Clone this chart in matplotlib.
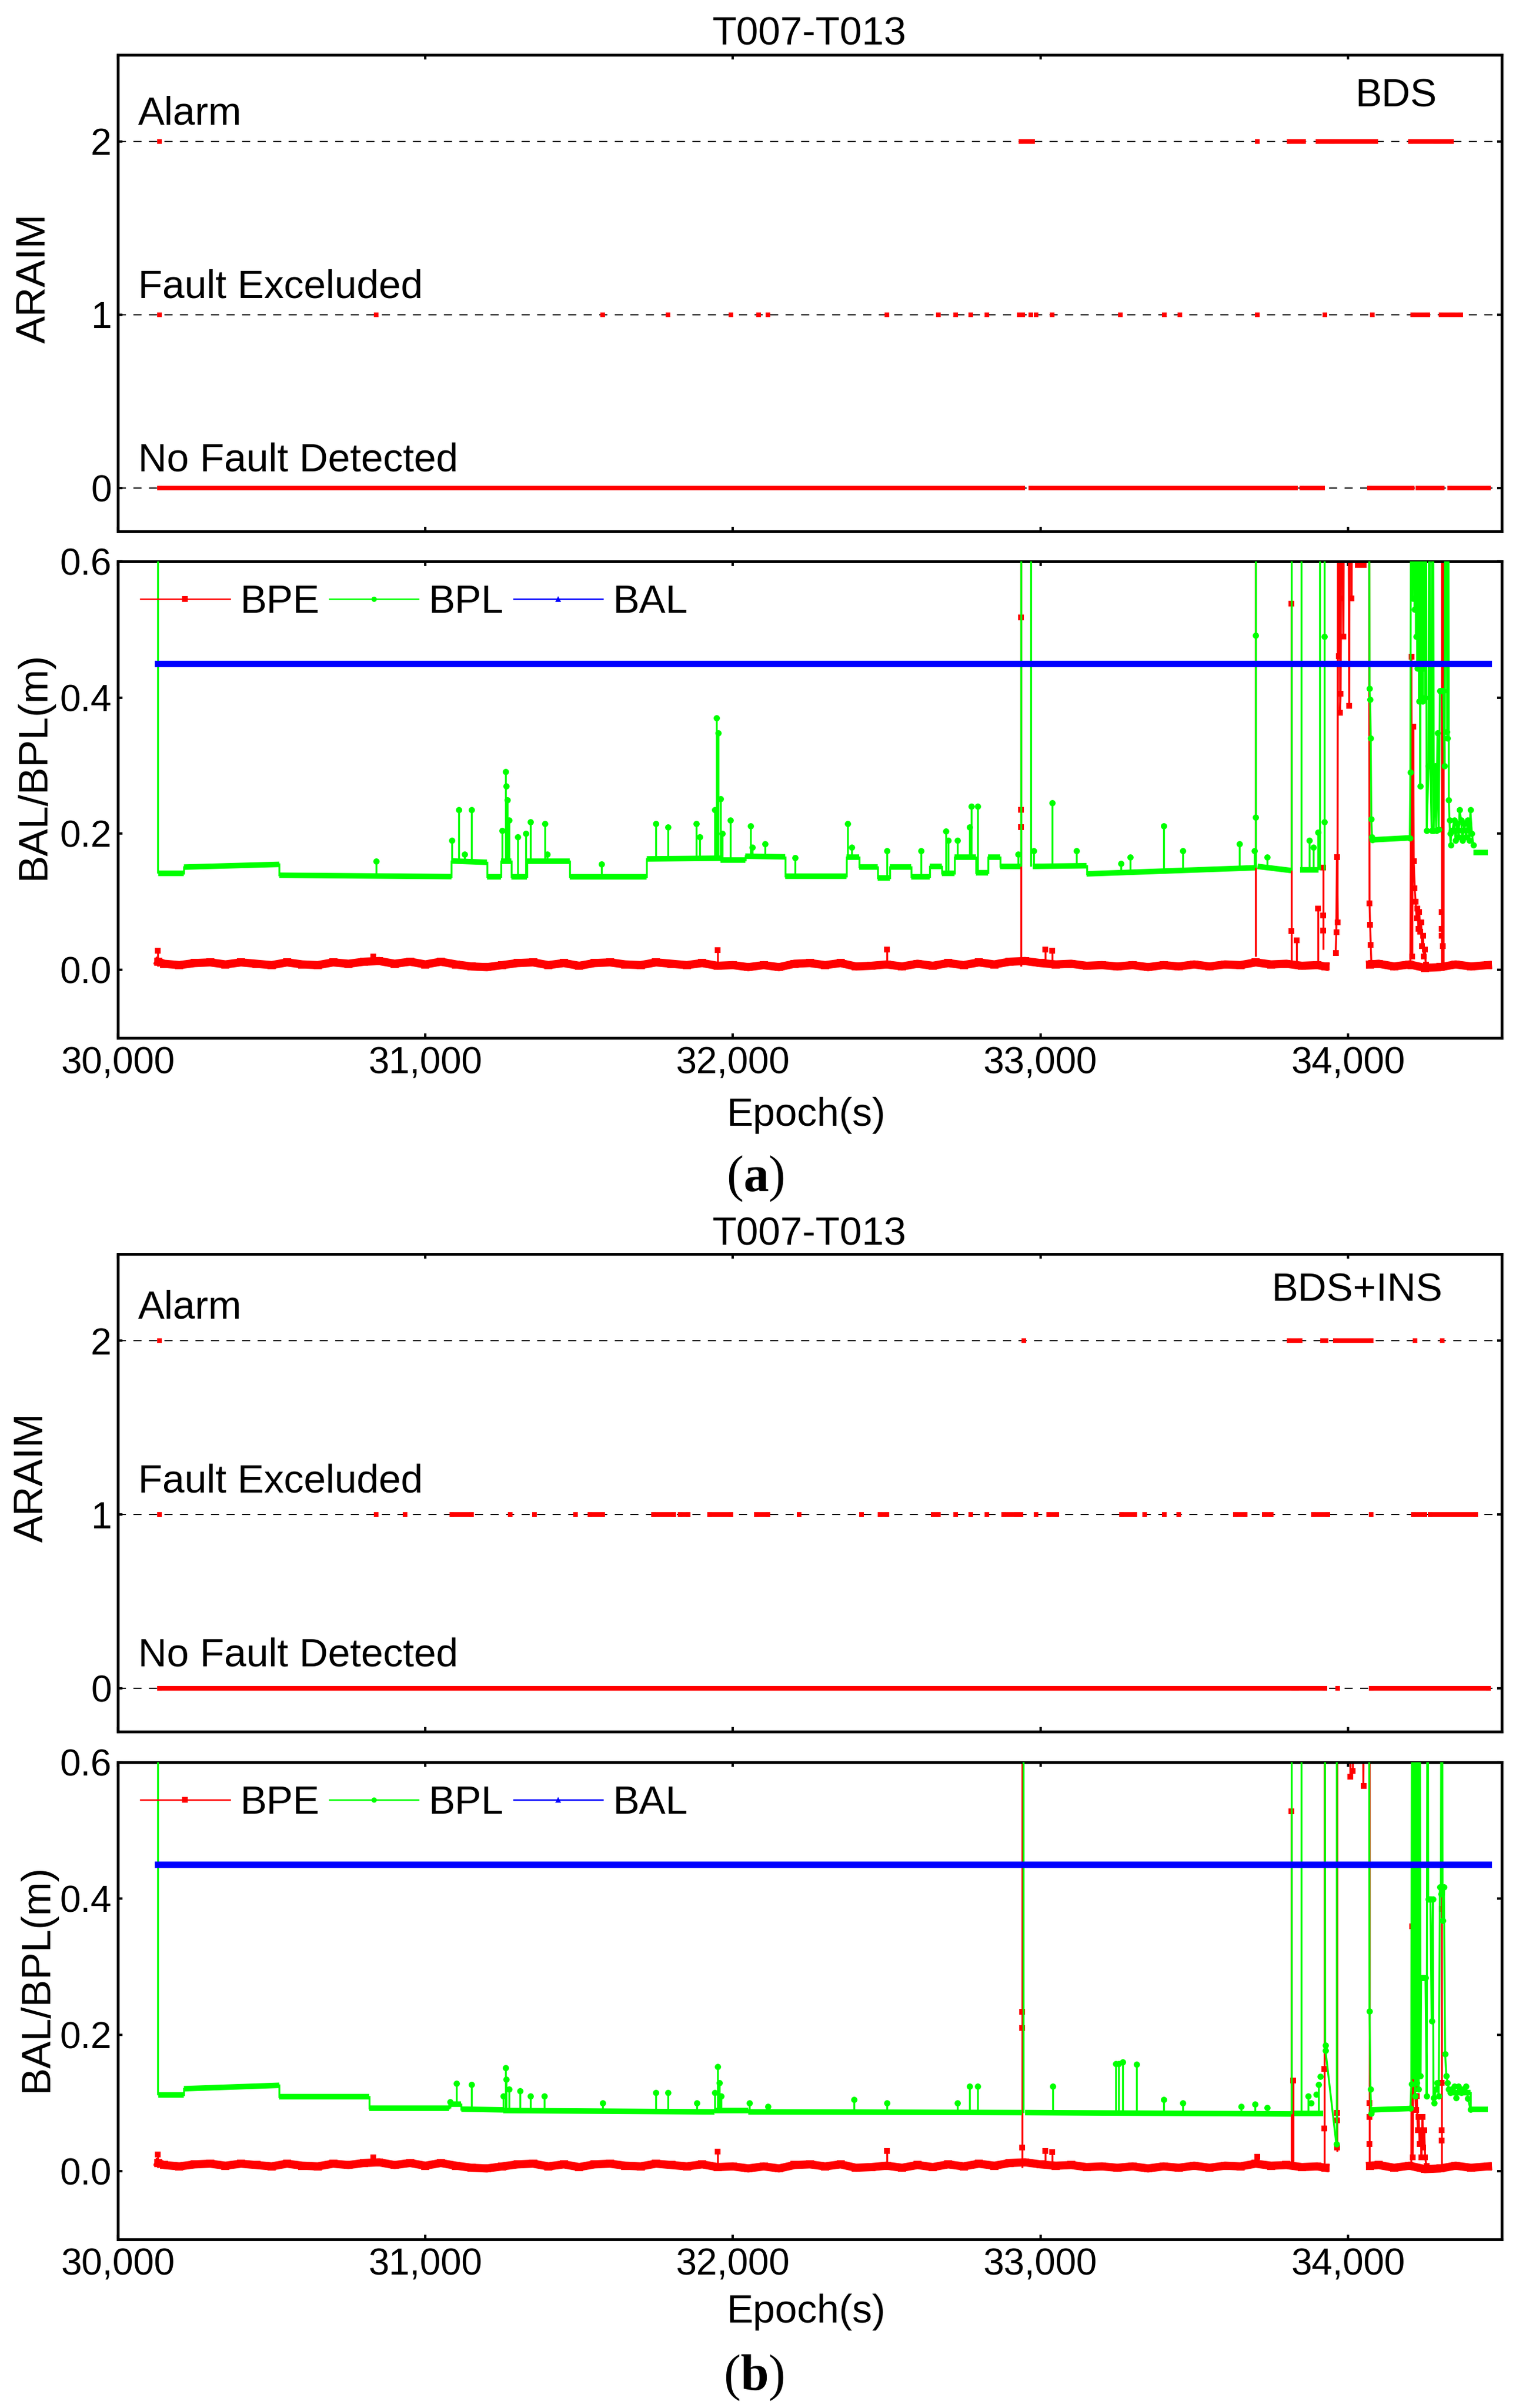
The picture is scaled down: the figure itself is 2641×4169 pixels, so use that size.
import numpy as np
import matplotlib
matplotlib.use("Agg")
import matplotlib.pyplot as plt
from matplotlib.lines import Line2D
from matplotlib.ticker import FuncFormatter

plt.rcParams["font.family"] = ["Liberation Sans", "DejaVu Sans"]
plt.rcParams["mathtext.fontset"] = "custom"
plt.rcParams["mathtext.rm"] = "Liberation Serif"
plt.rcParams["mathtext.bf"] = "Liberation Serif:bold"

nan = np.nan

# ---------------- ARAIM states: (start, end) epochs on each level ----------------
araim_a_nfd = [(30136, 32943), (32969, 33830), (33849, 33918), (34070, 34209),
               (34228, 34307), (34330, 34456)]
araim_a_fe = [(30136, 30136), (30839, 30839), (31576, 31576), (31788, 31788),
              (31994, 31994), (32083, 32083), (32114, 32114), (32500, 32500),
              (32668, 32668), (32725, 32725), (32773, 32773), (32826, 32826),
              (32931, 32931), (32943, 32943), (32969, 32969), (32985, 32985),
              (33038, 33038), (33260, 33260), (33402, 33402), (33453, 33453),
              (33706, 33706), (33925, 33925), (34080, 34080), (34210, 34260),
              (34303, 34337), (34341, 34367)]
araim_a_alarm = [(30136, 30136), (32937, 32975), (33705, 33705), (33808, 33855),
                 (33902, 33945), (33949, 34090), (34204, 34285), (34294, 34337)]

araim_b_nfd = [(30136, 33823), (33833, 33925), (33966, 33966), (34076, 34456)]
araim_b_fe = [(30136, 30136), (30839, 30839), (30934, 30934), (31086, 31149),
              (31275, 31275), (31355, 31355), (31488, 31488), (31535, 31576),
              (31741, 31807), (31829, 31855), (31924, 31994), (32076, 32114),
              (32215, 32215), (32418, 32418), (32478, 32500), (32652, 32668),
              (32725, 32725), (32773, 32773), (32826, 32826), (32880, 32921),
              (32937, 32937), (32985, 32985), (33026, 33054), (33263, 33307),
              (33339, 33339), (33402, 33402), (33450, 33450), (33633, 33665),
              (33728, 33750), (33887, 33934), (34076, 34076), (34213, 34251),
              (34267, 34415)]
araim_b_alarm = [(30136, 30136), (32947, 32947), (33808, 33845), (33918, 33928),
                 (33959, 34076), (34219, 34219), (34307, 34307)]

# ---------------- BAL ----------------
bal_t = [30130, 34456]
bal_v = [0.45, 0.45]

# ---------------- BPE noise band (same in both runs) ----------------
bpe_base_t = [30132, 30150, 30200, 30250, 30300, 30350, 30400, 30450, 30500, 30550,
              30600, 30650, 30700, 30750, 30800, 30850, 30900, 30950, 31000, 31050,
              31100, 31150, 31200, 31250, 31300, 31350, 31400, 31450, 31500, 31550,
              31600, 31650, 31700, 31750, 31800, 31850, 31900, 31950, 32000, 32050,
              32100, 32150, 32200, 32250, 32300, 32350, 32400, 32450, 32500, 32550,
              32600, 32650, 32700, 32750, 32800, 32850, 32900, 32950, 33000, 33050,
              33100, 33150, 33200, 33250, 33300, 33350, 33400, 33450, 33500, 33550,
              33600, 33650, 33700, 33750, 33800, 33850, 33900, 33926, 33940,
              34072, 34100, 34150, 34200, 34250, 34300, 34350, 34400, 34455]
bpe_base_v = [0.012, 0.009, 0.007, 0.010, 0.011, 0.008, 0.011, 0.009, 0.007, 0.011,
              0.008, 0.007, 0.011, 0.009, 0.012, 0.013, 0.009, 0.012, 0.008, 0.012,
              0.008, 0.005, 0.004, 0.007, 0.010, 0.011, 0.007, 0.010, 0.006, 0.010,
              0.011, 0.008, 0.007, 0.011, 0.009, 0.007, 0.010, 0.006, 0.007, 0.004,
              0.007, 0.004, 0.009, 0.010, 0.007, 0.010, 0.005, 0.006, 0.008, 0.005,
              0.009, 0.006, 0.010, 0.007, 0.011, 0.008, 0.012, 0.013, 0.010, 0.008,
              0.009, 0.006, 0.007, 0.005, 0.007, 0.004, 0.007, 0.005, 0.008, 0.005,
              0.008, 0.007, 0.011, 0.008, 0.009, 0.006, 0.007, 0.005, nan,
              0.008, 0.009, 0.005, 0.008, 0.003, 0.004, 0.008, 0.005, 0.007]

# ---------------- (a) BDS ----------------
bpe_a_spk_t = [30130, 30830, 31950, 32500, 32937, 33016, 33038, 33700, 33817, 33833,
               33903, 33920, 34305, 34310]
bpe_a_spk_lo = [0.005, 0.008, 0.006, 0.006, 0.005, 0.008, 0.008, 0.020, 0.010, 0.008,
                0.005, 0.030, 0.005, 0.010]
bpe_a_spk_hi = [0.028, 0.020, 0.029, 0.030, 1.0, 0.030, 0.028, 1.0, 0.538, 0.043,
                0.090, 0.150, 1.0, 1.0]
bpe_a_dot_t = [32937, 32937, 32937, 33817, 33920, 33920, 34305, 34305, 34305, 34308]
bpe_a_dot_v = [0.518, 0.235, 0.210, 0.057, 0.080, 0.058, 0.085, 0.060, 0.050, 0.035]
bpe_a_run_t = [33960, 33962, 33964, 33966, 33968, 33970, 33972, 33974, 33976, 33978,
               33981, 33985, 33990, 34000, 34004, 34007, 34010, 34012, 34015, 34025,
               34032, 34040, 34050, 34060, 34068, 34070, 34072, 34074, 34076, nan,
               34203, 34206, 34209, 34212, 34214, 34217, 34220, 34223, 34226, 34229,
               34232, 34235, 34238, 34241, 34244, 34247, 34250, 34253, 34256]
bpe_a_run_v = [0.025, 0.055, 0.166, 0.070, 1.0, 0.461, 1.0, 0.378, 0.406, 0.546,
               1.0, 0.490, 1.0, 1.0, 0.388, 1.0, 1.0, 0.546, 1.0, 1.0,
               0.595, 1.0, 0.595, 1.0, 1.0, 0.098, 0.066, 0.037, 0.010, nan,
               0.005, 0.460, 0.020, 0.357, 0.160, 0.120, 0.100, 0.076, 0.090, 0.060,
               0.085, 0.056, 0.070, 0.035, 0.050, 0.020, 0.030, 0.008, 0.005]

bpl_a_t0 = [30132, 30215, 30525, 31085, 31200, 31245, 31280, 31330, 31470, 31720,
            31960, 32040, 32170, 32370, 32410, 32470, 32510, 32580, 32640, 32680,
            32720, 32790, 32830, 32870, 32975, 33150, 33706, 33845, 34079, 34336, 34407]
bpl_a_t1 = [30215, 30525, 31085, 31200, 31245, 31280, 31330, 31470, 31720, 31960,
            32040, 32170, 32370, 32410, 32470, 32510, 32580, 32640, 32680, 32720,
            32790, 32830, 32870, 32935, 33150, 33698, 33815, 33905, 34203, 34405, 34455]
bpl_a_v0 = [0.142, 0.151, 0.139, 0.160, 0.137, 0.160, 0.137, 0.160, 0.137, 0.163,
            0.161, 0.167, 0.138, 0.166, 0.151, 0.135, 0.151, 0.137, 0.152, 0.142,
            0.166, 0.143, 0.166, 0.152, 0.152, 0.141, 0.152, 0.147, 0.191, 0.205, 0.172]
bpl_a_v1 = [0.142, 0.155, 0.137, 0.158, 0.137, 0.160, 0.137, 0.160, 0.137, 0.164,
            0.161, 0.166, 0.138, 0.166, 0.151, 0.135, 0.151, 0.137, 0.152, 0.142,
            0.166, 0.143, 0.166, 0.152, 0.153, 0.150, 0.146, 0.147, 0.194, 0.205, 0.172]
bpl_a_spk_t = [30130, 30839, 31086, 31108, 31127, 31149, 31250, 31260, 31266, 31272,
               31301, 31326, 31342, 31389, 31396, 31573, 31750, 31788, 31880, 31893,
               31940, 31946, 31953, 31959, 31965, 31991, 32057, 32063, 32105, 32203,
               32374, 32386, 32500, 32611, 32693, 32700, 32731, 32769, 32776, 32795,
               32928, 32937, 32969, 32978, 33038, 33118, 33262, 33291, 33400, 33463,
               33647, 33696, 33700, 33738, 33817, 33848, 33875, 33888, 33903, 33909, 33924]
bpl_a_spk_lo = [0.142, 0.138, 0.160, 0.160, 0.158, 0.158, 0.160, 0.160, 0.160, 0.160,
                0.137, 0.137, 0.160, 0.160, 0.160, 0.137, 0.163, 0.163, 0.163, 0.163,
                0.163, 0.163, 0.163, 0.163, 0.161, 0.161, 0.167, 0.167, 0.167, 0.138,
                0.166, 0.166, 0.135, 0.137, 0.142, 0.142, 0.166, 0.166, 0.166, 0.143,
                0.152, 0.152, 0.152, 0.152, 0.152, 0.152, 0.143, 0.144, 0.145, 0.146,
                0.149, 0.150, 0.150, 0.150, 0.146, 0.147, 0.147, 0.147, 0.147, 0.147, 0.147]
bpl_a_spk_hi = [1.0, 0.160, 0.190, 0.235, 0.170, 0.235, 0.205, 0.291, 0.250, 0.220,
                0.195, 0.200, 0.217, 0.215, 0.170, 0.155, 0.215, 0.210, 0.215, 0.195,
                0.235, 0.370, 0.348, 0.251, 0.200, 0.220, 0.211, 0.180, 0.185, 0.165,
                0.215, 0.180, 0.175, 0.175, 0.204, 0.190, 0.190, 0.210, 0.240, 0.240,
                0.170, 1.0, 1.0, 0.175, 0.245, 0.175, 0.156, 0.166, 0.211, 0.175,
                0.185, 0.175, 1.0, 0.166, 1.0, 1.0, 0.190, 0.180, 0.202, 1.0, 1.0]
bpl_a_dot_t = [31263, 33700, 33700, 33924, 33924]
bpl_a_dot_v = [0.270, 0.491, 0.224, 0.490, 0.217]
bpl_a_run_t = [34068, 34070, 34072, 34074, 34076, 34078, 34080, nan,
               34201, 34203, 34206, 34210, 34214, 34217, 34219, 34221, 34223, 34225,
               34227, 34229, 34231, 34233, 34235, 34237, 34239, 34241, 34243, 34245,
               34247, 34249, 34251, 34253, 34256, 34262, 34265, 34268, 34272, 34276,
               34279, 34283, 34287, 34291, 34295, 34299, 34302, 34306, 34310, 34314,
               34318, 34322, 34324, 34326, 34328, 34330, 34332, 34334, 34336, nan,
               34340, 34345, 34350, 34355, 34360, 34363, 34368, 34372, 34378, 34384,
               34390, 34395, 34398, 34403, 34408]
bpl_a_run_v = [1.0, 0.413, 0.397, 0.340, 0.222, 0.195, 0.191, nan,
               0.194, 0.290, 1.0, 0.546, 1.0, 0.530, 1.0, 0.490, 1.0, 0.443,
               1.0, 1.0, 0.395, 1.0, 0.270, 1.0, 0.400, 1.0, 0.395, 1.0,
               0.443, 1.0, 0.400, 1.0, 0.205, 0.300, 1.0, 0.300, 0.205, 1.0,
               0.205, 0.300, 0.205, 0.348, 0.206, 0.410, 0.410, 0.410, 0.410, 0.300,
               1.0, 0.350, 0.340, 1.0, 0.250, 0.220, 0.200, 0.183, 0.205, nan,
               0.205, 0.220, 0.190, 0.215, 0.195, 0.235, 0.220, 0.190, 0.215, 0.195,
               0.220, 0.190, 0.235, 0.200, 0.183]

# ---------------- (b) BDS+INS ----------------
bpe_b_spk_t = [30130, 30830, 31950, 32500, 32940, 33016, 33038, 33706, 33816, 33822,
               33924, 33965, 34070, 34305]
bpe_b_spk_lo = [0.005, 0.008, 0.006, 0.006, 0.005, 0.008, 0.008, 0.008, 0.010, 0.010,
                0.010, 0.029, 0.010, 0.008]
bpe_b_spk_hi = [0.025, 0.020, 0.029, 0.030, 1.0, 0.030, 0.028, 0.021, 0.528, 0.133,
                1.0, 1.0, 1.0, 1.0]
bpe_b_dot_t = [32940, 32940, 32940, 33924, 33924, 33965, 33965, 33965, 34070, 34070,
               34070, 34305, 34305, 34305, 34305]
bpe_b_dot_v = [0.234, 0.210, 0.035, 0.150, 0.063, 0.086, 0.075, 0.035, 0.100, 0.080,
               0.040, 0.385, 0.130, 0.060, 0.045]
bpe_b_run_t = [33966, 33980, 34000, 34004, 34008, 34012, 34016, 34020, 34030, 34040,
               34046, 34050, 34055, 34066, nan,
               34206, 34208, 34210, 34212, 34215, 34218, 34221, 34224, 34227, 34230,
               34233, 34236, 34239, 34242, 34245, 34248, 34251, 34255]
bpe_b_run_v = [1.0, 1.0, 1.0, 1.0, 0.579, 1.0, 0.587, 1.0, 1.0, 1.0,
               1.0, 0.565, 1.0, 1.0, nan,
               0.008, 0.359, 0.020, 0.156, 0.140, 0.120, 0.090, 0.110, 0.060, 0.080,
               0.040, 0.060, 0.020, 0.080, 0.035, 0.060, 0.020, 0.008]

bpl_b_t0 = [30132, 30215, 30525, 30817, 31076, 31117, 31253, 31940, 32050, 32950,
            33825, 34079, 34332, 34398]
bpl_b_t1 = [30215, 30525, 30817, 31076, 31117, 31253, 31940, 32050, 32940, 33815,
            33920, 34203, 34398, 34455]
bpl_b_v0 = [0.112, 0.121, 0.109, 0.0925, 0.098, 0.091, 0.089, 0.089, 0.087, 0.086,
            0.085, 0.090, 0.115, 0.091]
bpl_b_v1 = [0.112, 0.126, 0.109, 0.0925, 0.098, 0.090, 0.087, 0.089, 0.086, 0.084,
            0.085, 0.092, 0.115, 0.091]
bpl_b_spk_t = [30130, 31080, 31101, 31149, 31253, 31260, 31263, 31272, 31307, 31342,
               31386, 31576, 31750, 31788, 31883, 31940, 31950, 31956, 31962, 32054,
               32114, 32393, 32500, 32731, 32769, 32795, 32945, 33041, 33245, 33254,
               33267, 33312, 33400, 33463, 33653, 33698, 33738, 33816, 33848, 33870,
               33905, 33963]
bpl_b_spk_lo = [0.112, 0.0925, 0.098, 0.091, 0.089, 0.089, 0.089, 0.089, 0.089, 0.089,
                0.089, 0.088, 0.088, 0.088, 0.087, 0.087, 0.087, 0.087, 0.087, 0.087,
                0.087, 0.087, 0.087, 0.086, 0.086, 0.086, 0.086, 0.086, 0.085, 0.085,
                0.085, 0.085, 0.085, 0.085, 0.084, 0.084, 0.084, 0.084, 0.085, 0.085,
                0.085, 0.040]
bpl_b_spk_hi = [1.0, 0.1015, 0.1287, 0.127, 0.110, 0.1517, 0.135, 0.120, 0.118, 0.110,
                0.110, 0.100, 0.115, 0.115, 0.100, 0.115, 0.153, 0.130, 0.110, 0.100,
                0.095, 0.105, 0.100, 0.100, 0.125, 0.125, 1.0, 0.125, 0.158, 0.158,
                0.160, 0.157, 0.105, 0.100, 0.095, 0.098, 0.093, 1.0, 1.0, 0.110,
                0.127, 1.0]
bpl_b_dot_t = [33880, 33897, 33910]
bpl_b_dot_v = [0.100, 0.113, 0.139]
bpl_b_run_t = [33925, 33926, 33927, 33962, nan,
               34068, 34070, 34073, 34076, 34079, nan,
               34203, 34206, 34209, 34212, 34215, 34218, 34221, 34224, 34227, 34230,
               34233, 34236, 34238, 34242, 34247, 34252, 34256, 34259, 34261, 34264,
               34268, 34272, 34276, 34278, 34281, 34285, 34290, 34295, 34299, 34302,
               34305, 34308, 34312, 34316, 34320, 34324, 34328, 34332, 34336, 34345,
               34352, 34360, 34368, 34375, 34383, 34390, 34398]
bpl_b_run_v = [1.0, 0.185, 0.177, 0.040, nan,
               1.0, 0.235, 0.120, 0.085, 0.090, nan,
               0.092, 0.128, 1.0, 0.140, 1.0, 0.110, 1.0, 0.130, 1.0, 0.120,
               1.0, 0.140, 0.284, 0.284, 0.284, 0.284, 0.110, 1.0, 0.399, 0.399,
               0.399, 0.220, 0.399, 0.108, 0.100, 0.120, 0.130, 0.110, 0.417, 0.407,
               1.0, 0.368, 0.417, 0.172, 0.140, 0.130, 0.120, 0.115, 0.120, 0.125,
               0.108, 0.125, 0.115, 0.120, 0.125, 0.107, 0.091]

# ---------------- drawing ----------------
RED, GREEN, BLUE = "#ff0000", "#00ff00", "#0000ff"
W, H, DPI = 2641, 4169, 300
XTICKS = [30000, 31000, 32000, 33000, 34000]
FS = 16.5

fig = plt.figure(figsize=(W / DPI, H / DPI), dpi=DPI)


def add_ax(x0, y0, x1, y1):
    # pixel box of the axes in the reference picture
    return fig.add_axes([x0 / W, 1 - y1 / H, (x1 - x0) / W, (y1 - y0) / H])


def frame(ax):
    ax.set_xlim(30000, 34500)
    ax.set_xticks(XTICKS)
    for sp in ax.spines.values():
        sp.set_linewidth(1.15)
    ax.tick_params(direction="in", length=2, width=1, top=True, right=True, labelsize=15.5)
    ax.tick_params(axis="x", pad=3.5)
    ax.tick_params(axis="y", pad=2.6)


def draw_araim(ax, nfd, fe, alarm, dy, tag, tag_xy):
    frame(ax)
    ax.set_ylim(-0.25, 2.5)
    ax.set_yticks([0, 1, 2])
    ax.tick_params(axis="x", labelbottom=False)
    for lev, segs in ((0, nfd), (1, fe), (2, alarm)):
        ax.axhline(lev, color="k", lw=0.5, ls=(0, (6.7, 6.2)), zorder=1)
        for t0, t1 in segs:
            ax.plot([t0, t1], [lev, lev], color=RED, lw=1.9, solid_capstyle="butt",
                    marker="s", ms=2.1, mew=0, zorder=3)
    for lev, txt in ((2, "Alarm"), (1, "Fault Exceluded"), (0, "No Fault Detected")):
        ax.text(30065, lev + dy, txt, fontsize=FS, va="baseline")
    ax.text(tag_xy[0], tag_xy[1], tag, transform=ax.transAxes, ha="right",
            va="baseline", fontsize=FS)


def draw_bounds(ax, d):
    frame(ax)
    ax.set_ylim(-0.1, 0.6)
    ax.set_yticks([0, 0.2, 0.4, 0.6])
    ax.yaxis.set_major_formatter(FuncFormatter(lambda v, p: f"{v:.1f}"))
    ax.xaxis.set_major_formatter(FuncFormatter(lambda v, p: f"{v:,.0f}"))

    # BPE
    ax.plot(bpe_base_t, bpe_base_v, color=RED, lw=3.4, marker="s", ms=3.2, mew=0, zorder=2)
    ax.vlines(d["bpe_spk_t"], d["bpe_spk_lo"], d["bpe_spk_hi"], color=RED, lw=0.8, zorder=2)
    ax.plot(d["bpe_spk_t"], d["bpe_spk_hi"], ls="none", marker="s", ms=2.4, mew=0,
            color=RED, zorder=2)
    ax.plot(d["bpe_dot_t"], d["bpe_dot_v"], ls="none", marker="s", ms=2.4, mew=0,
            color=RED, zorder=2)
    ax.plot(d["bpe_run_t"], d["bpe_run_v"], color=RED, lw=0.8, marker="s", ms=2.4,
            mew=0, zorder=2)

    # BPL
    t0s, t1s, v0s, v1s = d["bpl_t0"], d["bpl_t1"], d["bpl_v0"], d["bpl_v1"]
    for i in range(len(t0s)):
        ax.plot([t0s[i], t1s[i]], [v0s[i], v1s[i]], color=GREEN, lw=2.3,
                solid_capstyle="butt", zorder=3)
        if i > 0 and t0s[i] == t1s[i - 1]:
            ax.plot([t0s[i], t0s[i]], [v1s[i - 1], v0s[i]], color=GREEN, lw=0.8, zorder=3)
    ax.vlines(d["bpl_spk_t"], d["bpl_spk_lo"], d["bpl_spk_hi"], color=GREEN, lw=0.8, zorder=3)
    ax.plot(d["bpl_spk_t"], d["bpl_spk_hi"], ls="none", marker="o", ms=2.6, mew=0,
            color=GREEN, zorder=3)
    ax.plot(d["bpl_dot_t"], d["bpl_dot_v"], ls="none", marker="o", ms=2.6, mew=0,
            color=GREEN, zorder=3)
    ax.plot(d["bpl_run_t"], d["bpl_run_v"], color=GREEN, lw=0.8, marker="o", ms=2.6,
            mew=0, zorder=3)

    # BAL
    ax.plot(bal_t, bal_v, color=BLUE, lw=2.7, zorder=4)

    handles = [Line2D([], [], color=RED, lw=0.6, marker="s", ms=2.4, mew=0),
               Line2D([], [], color=GREEN, lw=0.6, marker="o", ms=2.2, mew=0),
               Line2D([], [], color=BLUE, lw=0.6, marker="^", ms=2.6, mew=0)]
    ax.legend(handles, ["BPE", "BPL", "BAL"], loc="center left",
              bbox_to_anchor=(0.0163, 0.914), ncol=3, frameon=False, fontsize=FS,
              handlelength=2.25, handletextpad=0.25, columnspacing=0.25,
              borderpad=0, borderaxespad=0)


panel_a = dict(bpe_spk_t=bpe_a_spk_t, bpe_spk_lo=bpe_a_spk_lo, bpe_spk_hi=bpe_a_spk_hi,
               bpe_dot_t=bpe_a_dot_t, bpe_dot_v=bpe_a_dot_v,
               bpe_run_t=bpe_a_run_t, bpe_run_v=bpe_a_run_v,
               bpl_t0=bpl_a_t0, bpl_t1=bpl_a_t1, bpl_v0=bpl_a_v0, bpl_v1=bpl_a_v1,
               bpl_spk_t=bpl_a_spk_t, bpl_spk_lo=bpl_a_spk_lo, bpl_spk_hi=bpl_a_spk_hi,
               bpl_dot_t=bpl_a_dot_t, bpl_dot_v=bpl_a_dot_v,
               bpl_run_t=bpl_a_run_t, bpl_run_v=bpl_a_run_v)
panel_b = dict(bpe_spk_t=bpe_b_spk_t, bpe_spk_lo=bpe_b_spk_lo, bpe_spk_hi=bpe_b_spk_hi,
               bpe_dot_t=bpe_b_dot_t, bpe_dot_v=bpe_b_dot_v,
               bpe_run_t=bpe_b_run_t, bpe_run_v=bpe_b_run_v,
               bpl_t0=bpl_b_t0, bpl_t1=bpl_b_t1, bpl_v0=bpl_b_v0, bpl_v1=bpl_b_v1,
               bpl_spk_t=bpl_b_spk_t, bpl_spk_lo=bpl_b_spk_lo, bpl_spk_hi=bpl_b_spk_hi,
               bpl_dot_t=bpl_b_dot_t, bpl_dot_v=bpl_b_dot_v,
               bpl_run_t=bpl_b_run_t, bpl_run_v=bpl_b_run_v)

ax1 = add_ax(204, 95, 2599, 920)
draw_araim(ax1, araim_a_nfd, araim_a_fe, araim_a_alarm, 0.10, "BDS", (0.953, 0.892))
ax2 = add_ax(204, 972, 2599, 1797)
draw_bounds(ax2, panel_a)
ax3 = add_ax(204, 2171, 2599, 2998)
draw_araim(ax3, araim_b_nfd, araim_b_fe, araim_b_alarm, 0.128, "BDS+INS", (0.957, 0.902))
ax4 = add_ax(204, 3051, 2599, 3877)
draw_bounds(ax4, panel_b)

# titles, axis labels and sub-captions
for yb in (78, 2155):
    fig.text(1401 / W, 1 - yb / H, "T007-T013", ha="center", va="baseline", fontsize=FS)
for yb in (1949, 4021):
    fig.text(1395 / W, 1 - yb / H, "Epoch(s)", ha="center", va="baseline", fontsize=FS)
for x, y, txt in ((60, 482, "ARAIM"), (59, 1326, "BAL/BPL(m)"),
                  (56, 2558, "ARAIM"), (64, 3425, "BAL/BPL(m)")):
    fig.text(x / W, 1 - y / H, txt, rotation=90, ha="center", va="center", fontsize=17)
fig.text(1307 / W, 1 - 2062 / H, r"($\mathbf{a}$)", family="Liberation Serif",
         ha="center", va="baseline", fontsize=21)
fig.text(1305 / W, 1 - 4138 / H, r"($\mathbf{b}$)", family="Liberation Serif",
         ha="center", va="baseline", fontsize=21)

fig.savefig("out.png", dpi=DPI)
